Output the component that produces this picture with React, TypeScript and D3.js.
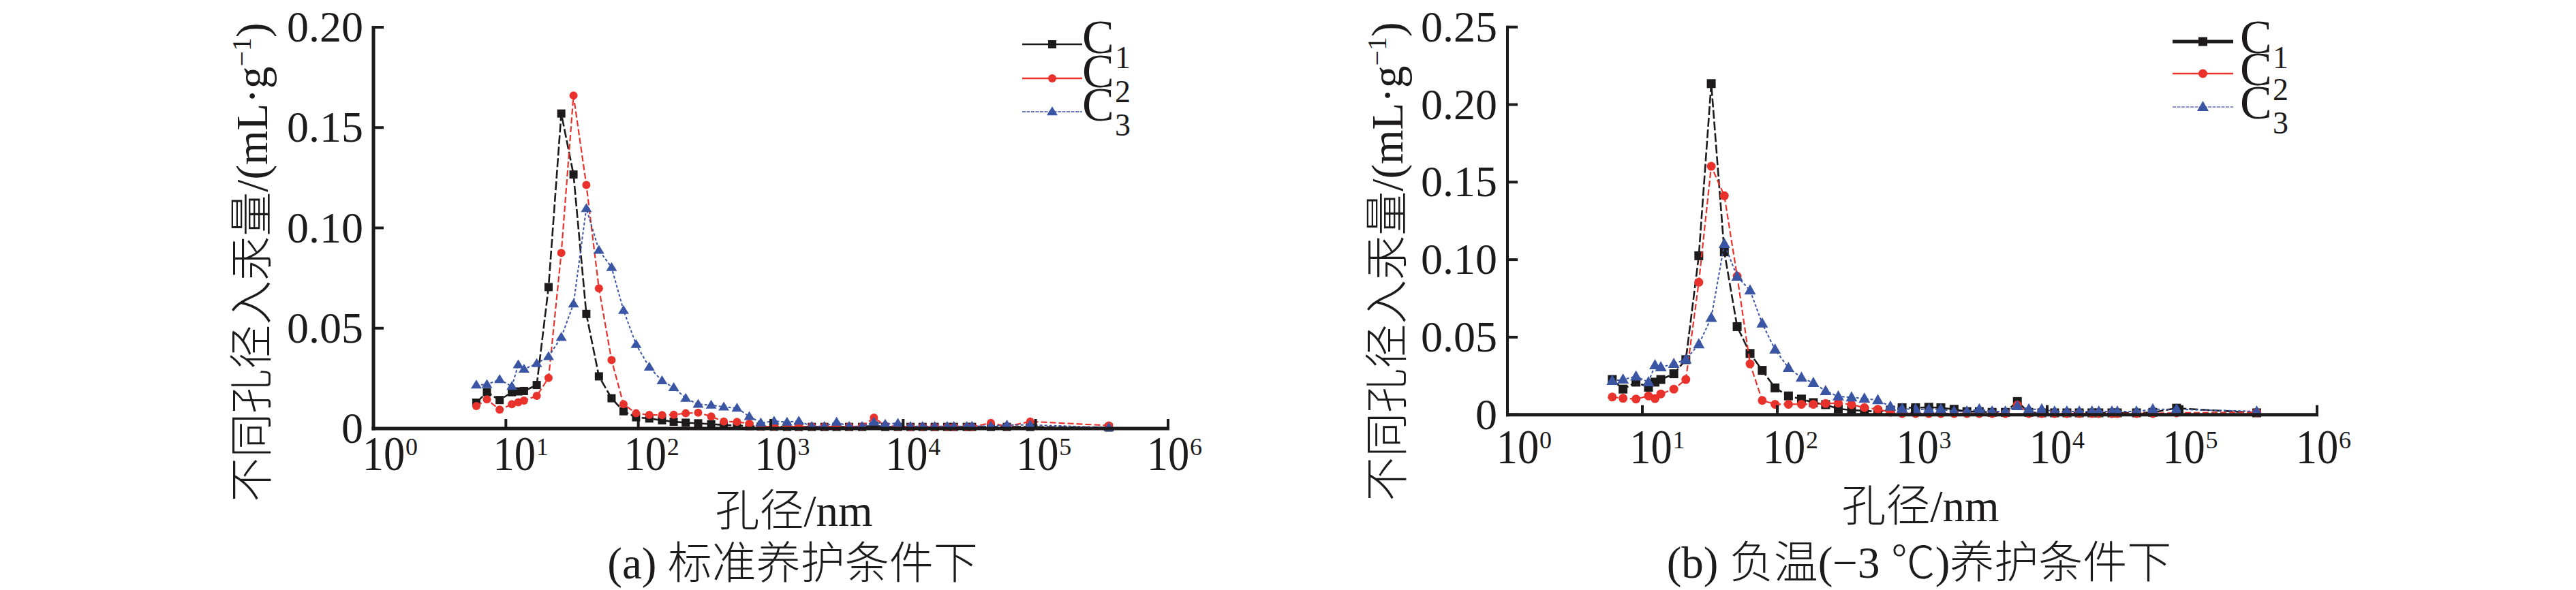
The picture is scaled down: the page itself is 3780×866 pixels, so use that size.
import React from "react";
import * as d3 from "d3";

// pore diameters (nm), shared by all series
const diameters = [5.98, 7.19, 8.97, 11.1, 12.4, 13.7, 17.1, 21.0, 26.2, 32.4, 40.5, 50.4, 62.8, 77.3, 96.2, 121, 151, 185, 228, 283, 355, 442, 556, 689, 841, 1059, 1327, 1629, 2042, 2541, 3141, 3908, 4898, 6012, 7311, 9120, 11350, 14000, 17300, 21480, 24150, 30200, 33110, 45920, 60670, 90990, 357300];

// (a) standard curing
const aC1 = [0.0129, 0.0181, 0.0142, 0.0181, 0.0185, 0.0187, 0.0217, 0.0705, 0.157, 0.1266,
  0.0571, 0.026, 0.0151, 0.0086, 0.0056, 0.005, 0.0041, 0.0034, 0.0029, 0.0026,
  0.0022, 0.0018, 0.0015, 0.0012, 0.001, 0.0009, 0.0008, 0.0008, 0.0008, 0.0008,
  0.0008, 0.0008, 0.0008, 0.0015, 0.0008, 0.0008, 0.0008, 0.0008, 0.0008, 0.0008,
  0.0008, 0.0008, 0.0008, 0.0008, 0.0008, 0.0008, 0.0005];
const aC2 = [0.0112, 0.0145, 0.0094, 0.0121, 0.0131, 0.0139, 0.0163, 0.0252, 0.0875, 0.166,
  0.1214, 0.0699, 0.0341, 0.0121, 0.0076, 0.0068, 0.0067, 0.0069, 0.0076, 0.0079,
  0.006, 0.0035, 0.0033, 0.0025, 0.001, 0.001, 0.001, 0.001, 0.001, 0.001,
  0.001, 0.001, 0.001, 0.0054, 0.0015, 0.001, 0.0008, 0.0008, 0.0008, 0.0008,
  0.0008, 0.0008, 0.0008, 0.0028, 0.001, 0.0035, 0.0015];
const aC3 = [0.0217, 0.022, 0.0244, 0.021, 0.0318, 0.0296, 0.0324, 0.0359, 0.0455, 0.0621,
  0.1097, 0.0889, 0.0803, 0.0589, 0.0419, 0.0306, 0.0238, 0.0204, 0.0151, 0.0121,
  0.0117, 0.0108, 0.0102, 0.006, 0.0029, 0.0037, 0.0032, 0.0037, 0.0011, 0.0011,
  0.0032, 0.0011, 0.0011, 0.0032, 0.0022, 0.0026, 0.0011, 0.0011, 0.0011, 0.0011,
  0.0011, 0.0011, 0.0012, 0.0012, 0.0018, 0.0018, 0.0005];

// (b) negative temperature (-3 °C) curing
const bC1 = [0.0227, 0.0165, 0.021, 0.0177, 0.021, 0.0227, 0.0264, 0.0355, 0.1025, 0.2135,
  0.105, 0.0568, 0.0395, 0.0286, 0.0173, 0.0121, 0.0101, 0.0078, 0.0065, 0.0038,
  0.003, 0.0025, 0.002, 0.003, 0.0045, 0.0045, 0.0048, 0.0045, 0.0035, 0.002,
  0.002, 0.0015, 0.0015, 0.0085, 0.0015, 0.0012, 0.0012, 0.0012, 0.0012, 0.0012,
  0.0012, 0.0012, 0.0012, 0.0012, 0.0015, 0.0042, 0.0012];
const bC2 = [0.0114, 0.0106, 0.0101, 0.0121, 0.0104, 0.0134, 0.0165, 0.0227, 0.0854, 0.1602,
  0.1412, 0.0894, 0.0328, 0.0092, 0.0067, 0.0067, 0.0067, 0.0067, 0.0072, 0.0075,
  0.0065, 0.0046, 0.0035, 0.0016, 0.0008, 0.0008, 0.0008, 0.0008, 0.0008, 0.0008,
  0.0008, 0.0008, 0.0008, 0.0062, 0.0008, 0.0008, 0.0008, 0.0008, 0.0008, 0.0008,
  0.0008, 0.0008, 0.0008, 0.0008, 0.0008, 0.0012, 0.0015];
const bC3 = [0.0218, 0.0227, 0.0247, 0.021, 0.0319, 0.0306, 0.0328, 0.0356, 0.0454, 0.0625,
  0.1101, 0.0891, 0.0802, 0.0588, 0.042, 0.0302, 0.0239, 0.0205, 0.0153, 0.0118,
  0.0112, 0.0104, 0.0094, 0.0053, 0.0038, 0.0035, 0.0035, 0.0035, 0.0021, 0.0021,
  0.0035, 0.0021, 0.0021, 0.0056, 0.0035, 0.0035, 0.0021, 0.0021, 0.0021, 0.0021,
  0.0021, 0.0021, 0.0021, 0.0021, 0.0035, 0.0035, 0.0021];

const yTicksA = [0, 0.05, 0.1, 0.15, 0.2];
const yTickLabelsA = ["0", "0.05", "0.10", "0.15", "0.20"];
const yTicksB = [0, 0.05, 0.1, 0.15, 0.2, 0.25];
const yTickLabelsB = ["0", "0.05", "0.10", "0.15", "0.20", "0.25"];
const xTickExponents = [0, 1, 2, 3, 4, 5, 6];
const seriesNames = ["C", "C", "C"];
const seriesSubs = ["1", "2", "3"];
const xTitle = "孔径/nm";
const yTitleMain = "不同孔径入汞量/(mL·g";
const yTitleSup = "−1";
const captionA = "(a) 标准养护条件下";
const captionB = "(b) 负温(−3 ℃)养护条件下";

const FONT = "'Liberation Serif','Times New Roman','Noto Sans CJK SC',serif";
const BLACK = "#1c1a1b";
const RED = "#e8322b";
const BLUE = "#3a55a4";

type PanelCfg = {
  x0: number; x1: number; y0: number; y1: number; ymax: number;
  yTicks: number[]; yLabels: string[];
  series: number[][];
  axisW: number; yAxisW: number;
  yTitleX: number; yTitleY: number;
  xTitleX: number; xTitleY: number;
  capX: number; capY: number; caption: string;
  tickBase: number;
  legX0: number; legX1: number; legRows: number[]; legTextX: number; legBase: number; legSub: number;
  legBlackW: number; legBlueColor: string;
  msq: number; mr: number; tw: number; th: number;
};

function Marker({ kind, cx, cy, cfg }: { kind: number; cx: number; cy: number; cfg: PanelCfg }) {
  if (kind === 0) {
    return <rect x={cx - cfg.msq / 2} y={cy - cfg.msq / 2} width={cfg.msq} height={cfg.msq} fill={BLACK} />;
  }
  if (kind === 1) {
    return <circle cx={cx} cy={cy} r={cfg.mr} fill={RED} />;
  }
  const w = cfg.tw, h = cfg.th;
  return <path d={`M${cx},${cy - h * 0.6}L${cx + w / 2},${cy + h * 0.4}L${cx - w / 2},${cy + h * 0.4}Z`} fill={BLUE} />;
}

function Panel({ cfg }: { cfg: PanelCfg }) {
  const x = d3.scaleLog().domain([1, 1e6]).range([cfg.x0, cfg.x1]);
  const y = d3.scaleLinear().domain([0, cfg.ymax]).range([cfg.y0, cfg.y1]);
  const line = d3.line<[number, number]>().x((d) => x(d[0])).y((d) => y(d[1]));
  const colors = [BLACK, RED, BLUE];
  const dashes = ["13 4", "9 4", "4 3"];
  const widths = [2.6, 2.2, 2];
  return (
    <g>
      {/* series */}
      {cfg.series.map((vals, si) => {
        const pts = diameters.map((dd, i) => [dd, vals[i]] as [number, number]).filter((p) => p[1] != null);
        return (
          <g key={si}>
            <path d={line(pts) || ""} fill="none" stroke={colors[si]} strokeWidth={widths[si]} strokeDasharray={dashes[si]} />
            {pts.map((p, i) => (
              <Marker key={i} kind={si} cx={x(p[0])} cy={y(p[1])} cfg={cfg} />
            ))}
          </g>
        );
      })}
      {/* axes */}
      <line x1={cfg.x0} x2={cfg.x0} y1={cfg.y1 - 2} y2={cfg.y0 + cfg.axisW / 2} stroke={BLACK} strokeWidth={cfg.yAxisW} />
      <line x1={cfg.x0 - cfg.yAxisW / 2} x2={cfg.x1 + 2} y1={cfg.y0} y2={cfg.y0} stroke={BLACK} strokeWidth={cfg.axisW} />
      {cfg.yTicks.map((t, i) => (
        <g key={"yt" + i}>
          <line x1={cfg.x0} x2={cfg.x0 + 15} y1={y(t)} y2={y(t)} stroke={BLACK} strokeWidth={4} />
          <text x={cfg.x0 - 15} y={y(t) + 21} textAnchor="end" fontFamily={FONT} fontSize={64} fill={BLACK}>
            {cfg.yLabels[i]}
          </text>
        </g>
      ))}
      {xTickExponents.map((e) => {
        const tx = x(Math.pow(10, e));
        const lx = tx + (6 - e) * 2.5;
        return (
          <g key={"xt" + e}>
            <line x1={tx} x2={tx} y1={cfg.y0} y2={cfg.y0 - 14} stroke={BLACK} strokeWidth={4} />
            <text transform={`translate(${lx},${cfg.tickBase}) scale(0.92,1.05)`} textAnchor="middle" fontFamily={FONT} fontSize={68} fill={BLACK}>10</text>
            <text x={lx + 32} y={cfg.tickBase - 22} textAnchor="start" fontFamily={FONT} fontSize={36} fill={BLACK}>{String(e)}</text>
          </g>
        );
      })}
      {/* axis titles */}
      <text transform={`translate(${cfg.yTitleX},${cfg.yTitleY}) rotate(-90)`} textAnchor="middle" fontFamily={FONT} fontWeight={300} fontSize={65} fill={BLACK}>
        {yTitleMain}
        <tspan dy={-24} fontSize={40}>{yTitleSup}</tspan>
        <tspan dy={24}>)</tspan>
      </text>
      <text x={cfg.xTitleX} y={cfg.xTitleY} textAnchor="middle" fontFamily={FONT} fontWeight={300} fontSize={65} fill={BLACK}>{xTitle}</text>
      <text x={cfg.capX} y={cfg.capY} textAnchor="middle" fontFamily={FONT} fontWeight={300} fontSize={65} fill={BLACK}>{cfg.caption}</text>
      {/* legend */}
      {cfg.legRows.map((ry, si) => (
        <g key={"lg" + si}>
          <line x1={cfg.legX0} x2={cfg.legX1} y1={ry} y2={ry}
            stroke={si === 2 ? cfg.legBlueColor : colors[si]}
            strokeWidth={si === 0 ? cfg.legBlackW : si === 1 ? 2.5 : 2}
            strokeDasharray={si === 2 ? "5 1.5" : undefined} />
          <Marker kind={si} cx={(cfg.legX0 + cfg.legX1) / 2} cy={ry} cfg={cfg} />
          <text x={cfg.legTextX} y={ry + cfg.legBase} fontFamily={FONT} fontSize={70} fill={BLACK}>{seriesNames[si]}</text>
          <text x={cfg.legTextX + 48} y={ry + cfg.legSub} fontFamily={FONT} fontSize={46} fill={BLACK}>{seriesSubs[si]}</text>
        </g>
      ))}
    </g>
  );
}

export default function App() {
  const panelA: PanelCfg = {
    x0: 548, x1: 1714, y0: 629, y1: 40, ymax: 0.2,
    yTicks: yTicksA, yLabels: yTickLabelsA,
    series: [aC1, aC2, aC3],
    axisW: 5, yAxisW: 5,
    yTitleX: 392, yTitleY: 385,
    xTitleX: 1165, xTitleY: 772,
    capX: 1163, capY: 849, caption: captionA,
    tickBase: 690,
    legX0: 1500, legX1: 1588, legRows: [65, 115, 164], legTextX: 1588, legBase: 13, legSub: 35,
    legBlackW: 2.7, legBlueColor: "#6f7dbd",
    msq: 12, mr: 6, tw: 16, th: 13,
  };
  const panelB: PanelCfg = {
    x0: 2212, x1: 3400, y0: 608.7, y1: 39.7, ymax: 0.25,
    yTicks: yTicksB, yLabels: yTickLabelsB,
    series: [bC1, bC2, bC3],
    axisW: 5, yAxisW: 4,
    yTitleX: 2058, yTitleY: 384,
    xTitleX: 2818, xTitleY: 765,
    capX: 2816, capY: 848, caption: captionB,
    tickBase: 680,
    legX0: 3188, legX1: 3277, legRows: [61, 108, 157], legTextX: 3287, legBase: 17, legSub: 39,
    legBlackW: 5, legBlueColor: "#8d93cc",
    msq: 13, mr: 6.5, tw: 17, th: 15,
  };
  return (
    <svg width={3780} height={866} viewBox="0 0 3780 866"
      style={{ position: "absolute", left: 0, top: 0, background: "#ffffff" }}>
      <rect x={0} y={0} width={3780} height={866} fill="#ffffff" />
      <Panel cfg={panelA} />
      <Panel cfg={panelB} />
    </svg>
  );
}
